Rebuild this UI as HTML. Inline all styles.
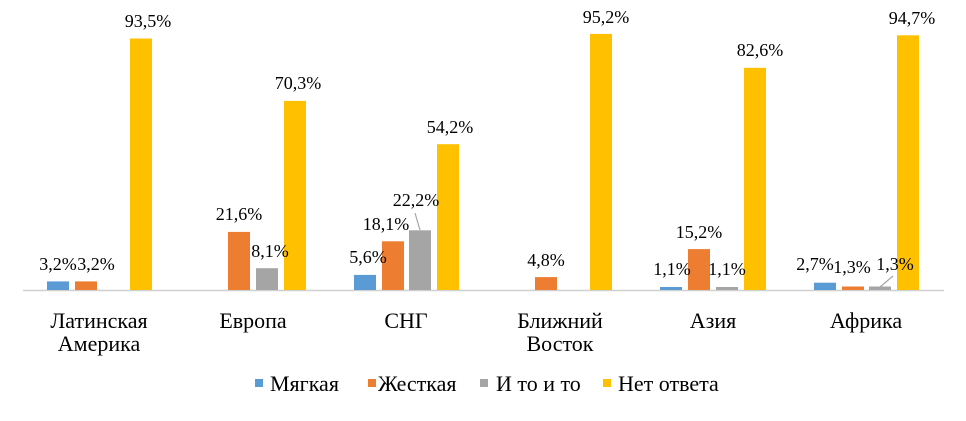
<!DOCTYPE html>
<html><head><meta charset="utf-8"><style>
html,body{margin:0;padding:0;background:#fff}
svg text{font-family:"Liberation Serif",serif;fill:#000}
</style></head><body>
<svg width="966" height="416" xmlns="http://www.w3.org/2000/svg">
<line x1="23" y1="290.5" x2="944" y2="290.5" stroke="#d0d0d0" stroke-width="1.5"/>
<rect x="47" y="281.4" width="22" height="8.6" fill="#5b9bd5"/>
<rect x="75" y="281.4" width="22" height="8.6" fill="#ed7d31"/>
<rect x="130" y="38.5" width="22" height="251.5" fill="#ffc000"/>
<rect x="228" y="231.9" width="22" height="58.1" fill="#ed7d31"/>
<rect x="256" y="268.2" width="22" height="21.8" fill="#a5a5a5"/>
<rect x="284" y="100.9" width="22" height="189.1" fill="#ffc000"/>
<rect x="354" y="274.9" width="22" height="15.1" fill="#5b9bd5"/>
<rect x="382" y="241.3" width="22" height="48.7" fill="#ed7d31"/>
<rect x="409" y="230.3" width="22" height="59.7" fill="#a5a5a5"/>
<rect x="437" y="144.2" width="22" height="145.8" fill="#ffc000"/>
<rect x="535" y="277.1" width="22" height="12.9" fill="#ed7d31"/>
<rect x="590" y="33.9" width="22" height="256.1" fill="#ffc000"/>
<rect x="660" y="287.0" width="22" height="3" fill="#5b9bd5"/>
<rect x="688" y="249.1" width="22" height="40.9" fill="#ed7d31"/>
<rect x="716" y="287.0" width="22" height="3" fill="#a5a5a5"/>
<rect x="744" y="67.8" width="22" height="222.2" fill="#ffc000"/>
<rect x="814" y="282.7" width="22" height="7.3" fill="#5b9bd5"/>
<rect x="842" y="286.5" width="22" height="3.5" fill="#ed7d31"/>
<rect x="869" y="286.5" width="22" height="3.5" fill="#a5a5a5"/>
<rect x="897" y="35.3" width="22" height="254.7" fill="#ffc000"/>
<line x1="420" y1="230" x2="415" y2="213" stroke="#a5a5a5" stroke-width="1.2"/>
<line x1="880" y1="287" x2="893" y2="276" stroke="#a5a5a5" stroke-width="1.2"/>
<g font-size="18" text-anchor="middle">
<text x="58" y="270">3,2%</text>
<text x="96" y="270">3,2%</text>
<text x="148" y="27">93,5%</text>
<text x="239" y="220">21,6%</text>
<text x="270" y="257">8,1%</text>
<text x="298" y="89">70,3%</text>
<text x="368" y="263">5,6%</text>
<text x="386" y="230">18,1%</text>
<text x="416" y="206">22,2%</text>
<text x="450" y="133">54,2%</text>
<text x="546" y="266">4,8%</text>
<text x="606" y="23">95,2%</text>
<text x="672" y="275">1,1%</text>
<text x="699" y="238">15,2%</text>
<text x="727" y="275">1,1%</text>
<text x="760" y="56">82,6%</text>
<text x="815" y="270">2,7%</text>
<text x="852" y="273">1,3%</text>
<text x="895" y="270">1,3%</text>
<text x="912" y="24">94,7%</text>
</g>
<g font-size="22" text-anchor="middle">
<text x="99" y="328">Латинская</text>
<text x="99" y="351">Америка</text>
<text x="253" y="328">Европа</text>
<text x="406" y="328">СНГ</text>
<text x="560" y="328">Ближний</text>
<text x="560" y="351">Восток</text>
<text x="713" y="328">Азия</text>
<text x="866" y="328">Африка</text>
</g>
<g font-size="22">
<rect x="255" y="379" width="8" height="8" fill="#5b9bd5"/><text x="270" y="391">Мягкая</text>
<rect x="368" y="379" width="8" height="8" fill="#ed7d31"/><text x="378" y="391">Жесткая</text>
<rect x="480" y="379" width="8" height="8" fill="#a5a5a5"/><text x="496" y="391">И то и то</text>
<rect x="603" y="379" width="8" height="8" fill="#ffc000"/><text x="618" y="391">Нет ответа</text>
</g>
</svg>
</body></html>
